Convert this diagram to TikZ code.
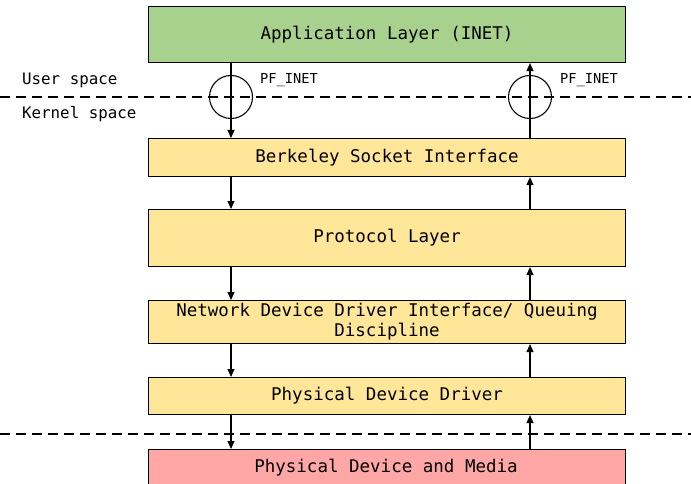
\documentclass[tikz,border=0pt]{standalone}
\usepackage{fontspec}
\setmonofont{DejaVu Sans Mono}
\usetikzlibrary{arrows.meta,calc}
\definecolor{appgreen}{HTML}{A9D18E}
\definecolor{layyellow}{HTML}{FFE699}
\definecolor{medpink}{HTML}{FFA6A6}
\begin{document}
\begin{tikzpicture}[x=1pt,y=1pt,
  layer/.style={draw=black, line width=1.1pt, minimum width=477pt, inner sep=0pt, align=center,
    font=\ttfamily\fontsize{17.5}{20}\selectfont, anchor=north west},
  sep/.style={dashed, dash pattern=on 10pt off 6pt, line width=1.1pt},
  arr/.style={line width=1.1pt, -{Triangle[length=8pt,width=7pt]}},
  ring/.style={circle, draw, line width=1.1pt, minimum size=43pt, inner sep=0pt},
  lbl/.style={font=\ttfamily\fontsize{15.8}{18}\selectfont, anchor=west, inner sep=0pt},
  small/.style={font=\ttfamily\fontsize{13.7}{15}\selectfont, anchor=west, inner sep=0pt}]
\clip (0,0) rectangle (691,-484);
\fill[white] (0,0) rectangle (691,-484);
% layers
\node[layer, fill=appgreen, minimum height=56pt] (app) at (148,-6) {Application Layer (INET)};
\node[layer, fill=layyellow, minimum height=38pt] (bsi) at (148,-138) {Berkeley Socket Interface};
\node[layer, fill=layyellow, minimum height=57pt] (pro) at (148,-209) {Protocol Layer};
\node[layer, fill=layyellow, minimum height=43pt] (ndd) at (148,-300) {Network Device Driver Interface/ Queuing\\Discipline};
\node[layer, fill=layyellow, minimum height=37pt] (pdd) at (148,-377) {Physical Device Driver};
\node[layer, fill=medpink, minimum height=50pt] (pdm) at (148,-449) {};
\node[font=\ttfamily\fontsize{17.5}{20}\selectfont] (pdmtxt) at (386,-468) {Physical Device and Media};
% separators
\coordinate (sl1) at (0,-97);
\coordinate (sr1) at (691,-97);
\coordinate (sl2) at (0,-434);
\coordinate (sr2) at (691,-434);
\draw[sep] (sl1) -- (sr1);
\draw[sep] (sl2) -- (sr2);
\node[lbl] (us) at (22,-80) {User space};
\node[lbl] (ks) at (22,-114) {Kernel space};
% arrow columns
\coordinate (xl) at (231,0);
\coordinate (xr) at (530,0);
\draw[arr] (app.south -| xl) -- (bsi.north -| xl);
\draw[arr] (bsi.north -| xr) -- (app.south -| xr);
\draw[arr] (bsi.south -| xl) -- (pro.north -| xl);
\draw[arr] (pro.north -| xr) -- (bsi.south -| xr);
\draw[arr] (pro.south -| xl) -- (ndd.north -| xl);
\draw[arr] (ndd.north -| xr) -- (pro.south -| xr);
\draw[arr] (ndd.south -| xl) -- (pdd.north -| xl);
\draw[arr] (pdd.north -| xr) -- (ndd.south -| xr);
\draw[arr] (pdd.south -| xl) -- (pdm.north -| xl);
\draw[arr] (pdm.north -| xr) -- (pdd.south -| xr);
% rings
\node[ring] (rl) at (231,-97) {};
\node[ring] (rr) at (530,-97) {};
\node[small] (pfl) at (260,-80) {PF\_INET};
\node[small] (pfr) at (560,-80) {PF\_INET};
\end{tikzpicture}
\end{document}
